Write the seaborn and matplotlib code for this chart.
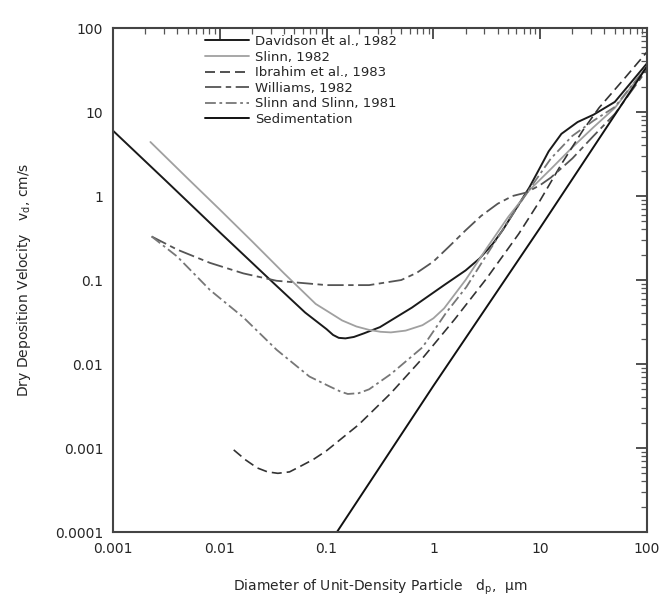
import pandas as pd
import seaborn as sns
import matplotlib.pyplot as plt
import matplotlib.ticker as mticker

# values: particle diameter (um) and deposition velocity (cm/s)
davidson_d = [0.001, 0.00316, 0.01, 0.0316, 0.063, 0.1, 0.115, 0.13, 0.15, 0.18, 0.224,
              0.316, 0.63, 1.26, 2.0, 2.7, 3.6, 4.5, 6.0, 7.9, 10, 12, 15.8, 22.4, 31.6, 50, 100]
davidson_v = [6.0, 1.5, 0.37, 0.093, 0.041, 0.026, 0.0222, 0.0205, 0.0202, 0.021, 0.0232,
              0.0275, 0.047, 0.087, 0.13, 0.18, 0.27, 0.4, 0.72, 1.26, 2.2, 3.4, 5.5, 7.6,
              9.3, 13.2, 38]

slinn_d = [0.00224, 0.005, 0.01, 0.02, 0.04, 0.079, 0.11, 0.14, 0.19, 0.25, 0.32, 0.4,
           0.55, 0.79, 1.0, 1.26, 2.0, 3.16, 5.0, 7.9, 12.6, 20, 31.6, 50, 100]
slinn_v = [4.4, 1.62, 0.69, 0.29, 0.12, 0.052, 0.04, 0.033, 0.028, 0.0255, 0.0242, 0.0238,
           0.025, 0.029, 0.035, 0.046, 0.1, 0.24, 0.56, 1.17, 2.1, 3.8, 6.6, 11.2, 35]

ibrahim_d = [0.0135, 0.0175, 0.0224, 0.028, 0.035, 0.045, 0.056, 0.075, 0.1, 0.2, 0.4,
             0.79, 1.58, 3.16, 6.3, 10, 15.8, 25, 35.5, 63, 100]
ibrahim_v = [0.00095, 0.00072, 0.00058, 0.00052, 0.0005, 0.00052, 0.0006, 0.00073, 0.00093,
             0.0019, 0.0045, 0.0117, 0.034, 0.105, 0.355, 0.89, 2.4, 6.0, 11.2, 26, 52]

williams_d = [0.0023, 0.004, 0.0081, 0.0166, 0.034, 0.1, 0.25, 0.5, 0.7, 1.0, 1.4, 2.0,
              2.8, 4.0, 5.5, 7.4, 10, 12.6, 20, 31.6, 50, 100]
williams_v = [0.33, 0.23, 0.16, 0.12, 0.098, 0.087, 0.087, 0.1, 0.122, 0.166, 0.25, 0.39,
              0.58, 0.81, 1.0, 1.1, 1.35, 1.66, 2.8, 5.2, 9.5, 32]

sslinn_d = [0.0023, 0.004, 0.0081, 0.0166, 0.034, 0.069, 0.107, 0.135, 0.158, 0.2, 0.25,
            0.4, 0.79, 1.32, 2.04, 3.16, 5.0, 7.9, 12.6, 20, 31.6, 50, 100]
sslinn_v = [0.33, 0.19, 0.076, 0.036, 0.0148, 0.0071, 0.0054, 0.0047, 0.0044, 0.0045, 0.005,
            0.0076, 0.0158, 0.041, 0.083, 0.2, 0.5, 1.2, 2.8, 5.2, 7.9, 11.5, 35]

sed_d = [0.125, 1, 10, 100]
sed_v = [1e-4, 0.0055, 0.42, 35]

labels = ["Davidson et al., 1982", "Slinn, 1982", "Ibrahim et al., 1983",
          "Williams, 1982", "Slinn and Slinn, 1981", "Sedimentation"]
tick_vals_x = [0.001, 0.01, 0.1, 1, 10, 100]
tick_labels_x = ["0.001", "0.01", "0.1", "1", "10", "100"]
tick_vals_y = [0.0001, 0.001, 0.01, 0.1, 1, 10, 100]
tick_labels_y = ["0.0001", "0.001", "0.01", "0.1", "1", "10", "100"]

sns.set_style("white")
plt.rcParams["font.family"] = ["DejaVu Sans"]

fig = plt.figure(figsize=(6.67, 6.03), dpi=100)
ax = fig.add_axes([0.1694, 0.1177, 0.8006, 0.8358])

series = [(davidson_d, davidson_v, "#1a1a1a", 1.4, (None, None)),
          (slinn_d, slinn_v, "#a0a0a0", 1.3, (None, None)),
          (ibrahim_d, ibrahim_v, "#333333", 1.2, (6, 3)),
          (williams_d, williams_v, "#555555", 1.3, (9, 2.5, 3, 2.5)),
          (sslinn_d, sslinn_v, "#777777", 1.3, (6, 2, 1.5, 2)),
          (sed_d, sed_v, "#111111", 1.4, (None, None))]

for (d, v, col, lw, dash), lab in zip(series, labels):
    df = pd.DataFrame({"d": d, "v": v})
    sns.lineplot(data=df, x="d", y="v", ax=ax, color=col, linewidth=lw,
                 sort=False, estimator=None, label=lab)
    if dash[0] is not None:
        ax.lines[-1].set_dashes(dash)

ax.set_xscale("log")
ax.set_yscale("log")
ax.set_xlim(0.001, 100)
ax.set_ylim(0.0001, 100)
ax.set_xticks(tick_vals_x)
ax.set_xticklabels(tick_labels_x)
ax.set_yticks(tick_vals_y)
ax.set_yticklabels(tick_labels_y)
ax.xaxis.set_minor_locator(mticker.LogLocator(base=10, subs=range(2, 10), numticks=20))
ax.yaxis.set_minor_locator(mticker.LogLocator(base=10, subs=range(2, 10), numticks=20))
ax.xaxis.set_minor_formatter(mticker.NullFormatter())
ax.yaxis.set_minor_formatter(mticker.NullFormatter())
ax.tick_params(which="major", direction="in", length=8, width=1.2, top=True, right=True,
               labelsize=10, pad=7, color="#333333")
ax.tick_params(which="minor", direction="in", length=4, width=0.9, top=True, right=True,
               color="#555555")
for s in ax.spines.values():
    s.set_linewidth(1.5)
    s.set_color("#444444")

ax.set_xlabel("Diameter of Unit-Density Particle   d$_\\mathrm{p}$,  \u03bcm", fontsize=10, labelpad=16)
ax.set_ylabel("Dry Deposition Velocity   v$_\\mathrm{d}$, cm/s", fontsize=10, labelpad=16)

handles, labs = ax.get_legend_handles_labels()
ax.legend(handles, labs, loc="upper left", bbox_to_anchor=(0.15, 1.01), frameon=False,
          fontsize=9.5, handlelength=3.3, handletextpad=0.5, labelspacing=0.2)

fig.savefig("out.png", dpi=100)
